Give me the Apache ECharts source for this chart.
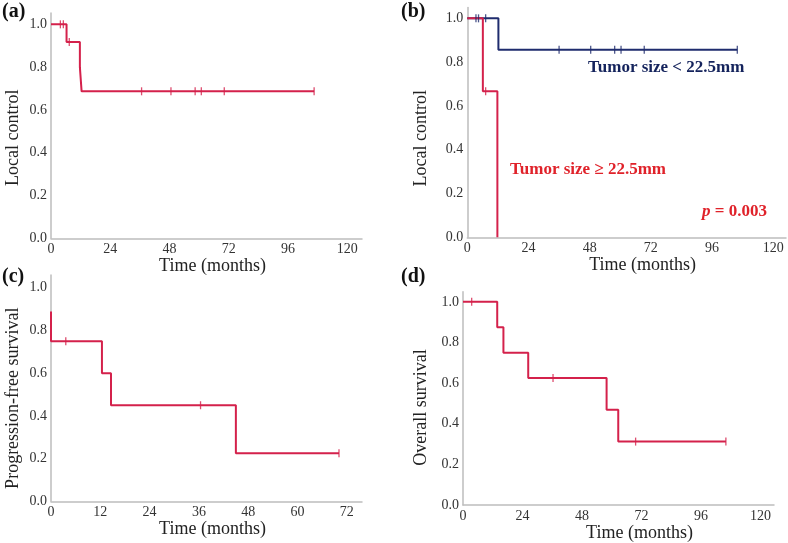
<!DOCTYPE html>
<html>
<head>
<meta charset="utf-8">
<script src="https://cdn.jsdelivr.net/npm/echarts@6/dist/echarts.min.js"></script>
<style>
  html, body { margin: 0; padding: 0; background: #fff; }
  #main { width: 788px; height: 543px; }
</style>
</head>
<body>
<div id="main"></div>
<script>
// (a) local control, all patients
const lcTimes = [0, 6.3, 11.7, 12.4, 106.6];
const lcSurv = [1.0, 0.917, 0.8, 0.687, 0.687];
const lcCensor = [3.8, 5.0, 7.4, 36.7, 48.6, 58.4, 60.9, 70.2, 106.6];

// (b) local control by tumor size
const smallTimes = [0, 12.2, 105.9];
const smallSurv = [1.0, 0.857, 0.857];
const smallCensor = [3.4, 4.4, 7.2, 36.0, 48.4, 57.8, 60.3, 69.4, 105.9];
const largeTimes = [0, 6.1, 11.8];
const largeSurv = [1.0, 0.667, 0.0];
const largeCensor = [7.2];

// (c) progression-free survival
const pfsTimes = [0, 0, 12.4, 14.6, 45.0, 70.1];
const pfsSurv = [0.889, 0.75, 0.6, 0.45, 0.225, 0.225];
const pfsCensor = [3.6, 36.4, 70.1];

// (d) overall survival
const osTimes = [0, 13.8, 16.3, 26.3, 57.9, 62.6, 106.0];
const osSurv = [1.0, 0.875, 0.75, 0.625, 0.469, 0.3125, 0.3125];
const osCensor = [3.5, 36.3, 69.6, 106.0];

const yTitles = ["Local control", "Local control", "Progression-free survival", "Overall survival"];
const panelLabels = ["(a)", "(b)", "(c)", "(d)"];

const RED = "#d4214b";
const NAVY = "#1f2c6e";
const AXIS = "#bdbdbd";
const FONT = "Liberation Serif";

function stepPoints(times, surv) {
  return times.map((t, i) => [t, surv[i]]);
}
// survival value at time t (right-continuous step)
function survAt(times, surv, t) {
  let v = surv[0];
  for (let i = 0; i < times.length; i++) {
    if (times[i] <= t) v = surv[i];
  }
  return v;
}
function censorPoints(times, surv, cens) {
  return cens.map(t => [t, survAt(times, surv, t)]);
}

const grids = [
  { left: 51, top: 13, width: 311, height: 225.3 },
  { left: 467.3, top: 7.4, width: 318.7, height: 229.9 },
  { left: 51, top: 275, width: 311, height: 226.3 },
  { left: 463, top: 291.7, width: 311, height: 215.6 }
];
const xMax = [126, 125, 75.7, 125.4];
const xStep = [24, 24, 12, 24];
const yMax = [1.053, 1.05, 1.06, 1.05];
const yGap = [29, 37, 29, 33];
const xNamePad = [12, 32, 12, 42];
const yNamePad = [24, 32, 20, 18];

const xAxes = grids.map((g, i) => ({
  gridIndex: i,
  type: "value",
  min: 0,
  max: xMax[i],
  interval: xStep[i],
  name: "Time (months)",
  nameLocation: "middle",
  nameGap: 18,
  nameTextStyle: { fontFamily: FONT, fontSize: 18, color: "#222", padding: [0, 0, 0, xNamePad[i]] },
  axisLine: { lineStyle: { color: AXIS, width: 1.5 } },
  axisTick: { show: false },
  splitLine: { show: false },
  axisLabel: {
    showMaxLabel: false,
    fontFamily: FONT, fontSize: 14, color: "#333", margin: 4,
    formatter: v => (v % xStep[i] === 0 ? String(v) : "")
  }
}));

const yAxes = grids.map((g, i) => ({
  gridIndex: i,
  type: "value",
  min: 0,
  max: yMax[i],
  interval: 0.2,
  name: yTitles[i],
  nameLocation: "middle",
  nameGap: yGap[i],
  nameTextStyle: { fontFamily: FONT, fontSize: 18, color: "#222", padding: [0, yNamePad[i], 0, 0] },
  axisLine: { show: true, lineStyle: { color: AXIS, width: 1.5 } },
  axisTick: { show: false },
  splitLine: { show: false },
  axisLabel: {
    showMaxLabel: false,
    fontFamily: FONT, fontSize: 14, color: "#333", margin: 4,
    formatter: v => v.toFixed(1)
  }
}));

function kmLine(idx, times, surv, color) {
  return {
    type: "line", xAxisIndex: idx, yAxisIndex: idx,
    step: "end", showSymbol: false, silent: true,
    lineStyle: { color: color, width: 2 },
    data: stepPoints(times, surv), z: 3
  };
}
function kmCensor(idx, times, surv, cens, color) {
  return {
    type: "scatter", xAxisIndex: idx, yAxisIndex: idx,
    symbol: "rect", symbolSize: [1.3, 8], silent: true,
    itemStyle: { color: color },
    data: censorPoints(times, surv, cens), z: 4
  };
}

const series = [
  kmLine(0, lcTimes, lcSurv, RED),
  kmCensor(0, lcTimes, lcSurv, lcCensor, RED),
  kmLine(1, smallTimes, smallSurv, NAVY),
  kmCensor(1, smallTimes, smallSurv, smallCensor, NAVY),
  kmLine(1, largeTimes, largeSurv, RED),
  kmCensor(1, largeTimes, largeSurv, largeCensor, RED),
  kmLine(2, pfsTimes, pfsSurv, RED),
  kmCensor(2, pfsTimes, pfsSurv, pfsCensor, RED),
  kmLine(3, osTimes, osSurv, RED),
  kmCensor(3, osTimes, osSurv, osCensor, RED)
];

const labelPos = [[2, 12], [401, 12], [2, 277], [401, 277]];
const graphic = panelLabels.map((t, i) => ({
  type: "text", x: labelPos[i][0], y: labelPos[i][1],
  style: { text: t, fontFamily: FONT, fontWeight: "bold", fontSize: 20, fill: "#111", textVerticalAlign: "middle" }
}));
graphic.push(
  { type: "text", x: 588, y: 68,
    style: { text: "Tumor size < 22.5mm", fontFamily: FONT, fontWeight: "bold", fontSize: 17, fill: "#14235c", textVerticalAlign: "middle" } },
  { type: "text", x: 510, y: 170,
    style: { text: "Tumor size \u2265 22.5mm", fontFamily: FONT, fontWeight: "bold", fontSize: 17, fill: "#e0222a", textVerticalAlign: "middle" } },
  { type: "text", x: 702, y: 212,
    style: { text: "{i|p} = 0.003", fontFamily: FONT, fontWeight: "bold", fontSize: 17, fill: "#e0222a", textVerticalAlign: "middle",
      rich: { i: { fontFamily: FONT, fontWeight: "bold", fontStyle: "italic", fontSize: 17, fill: "#e0222a" } } } }
);

const chart = echarts.init(document.getElementById("main"), null, { renderer: "canvas" });
chart.setOption({
  animation: false,
  backgroundColor: "#fff",
  grid: grids,
  xAxis: xAxes,
  yAxis: yAxes,
  series: series,
  graphic: graphic
});
</script>
</body>
</html>
